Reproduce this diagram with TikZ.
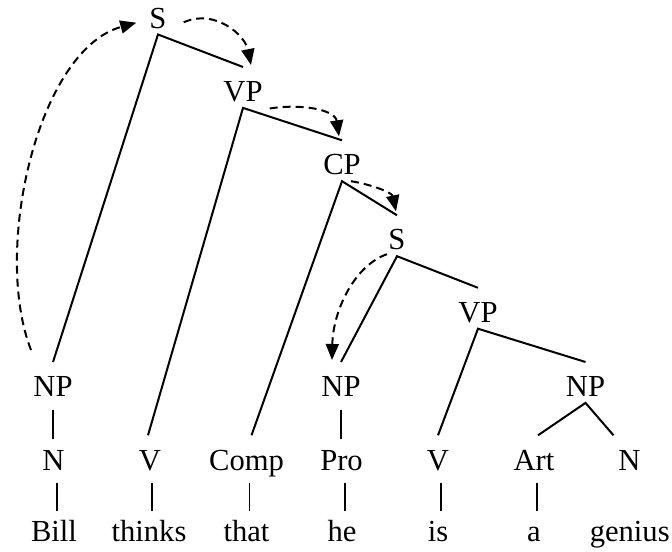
\documentclass[tikz,border=0pt]{standalone}
\usepackage{fontspec}
\setmainfont{Liberation Serif}
\usetikzlibrary{arrows.meta,calc}

\begin{document}
\begin{tikzpicture}[x=1bp,y=-1bp,
  lab/.style={inner sep=0pt,anchor=base,text height=34.5bp,text depth=6bp,
    font=\fontsize{30.6bp}{36bp}\selectfont},
  branch/.style={line width=2bp},
  bar/.style={line width=1.2bp,shorten <=7bp,shorten >=-3.5bp},
  move/.style={line width=2bp,dash pattern=on 8bp off 5bp,
    -{Triangle[length=16bp,width=13bp]}}]
\useasboundingbox (0,0) rectangle (672,552);
% phrase labels
\node[lab] (S1) at (158,28.3) {S};
\node[lab] (VP1) at (243,101.7) {VP};
\node[lab] (CP) at (342,175) {CP};
\node[lab] (S2) at (397,250) {S};
\node[lab] (VP2) at (478,322.5) {VP};
\node[lab] (NP1) at (53,396.7) {NP};
\node[lab] (NP2) at (341,396.7) {NP};
\node[lab] (NP3) at (585.5,396.7) {NP};
% word classes
\node[lab] (N1) at (53.3,470) {N};
\node[lab] (V1) at (150,470) {V};
\node[lab] (Comp) at (246.5,470) {Comp};
\node[lab] (Pro) at (341.5,470) {Pro};
\node[lab] (V2) at (438,470) {V};
\node[lab] (Art) at (534,470) {Art};
\node[lab] (N2) at (629.5,470) {N};
% words
\node[lab] (bill) at (54,541.7) {Bill};
\node[lab] (thinks) at (149,541.7) {thinks};
\node[lab] (that) at (246.5,541.7) {that};
\node[lab] (he) at (342,541.7) {he};
\node[lab] (is) at (438,541.7) {is};
\node[lab] (a) at (534,541.7) {a};
\node[lab] (genius) at (629.7,541.7) {genius};
% branches
\draw[branch] (NP1.north) -- (S1.south) -- (VP1.north);
\draw[branch] ([xshift=-2bp]V1.north) -- (VP1.south) -- (CP.north);
\draw[branch] ([xshift=5bp]Comp.north) -- (CP.south) -- (S2.north);
\draw[branch] (NP2.north) -- (S2.south) -- (VP2.north);
\draw[branch] (V2.north) -- (VP2.south) -- (NP3.north);
\draw[branch] ([xshift=4bp]Art.north) -- (NP3.south) -- ([xshift=-16bp]N2.north);
% unary bars
\draw[bar] (NP1.south) -- (NP1.south |- N1.north);
\draw[bar] (NP2.south) -- (NP2.south |- Pro.north);
\foreach \c/\w in {N1/bill,V1/thinks,Comp/that,Pro/he,V2/is,Art/a}
  \draw[bar] ($(\c.south -| \w)+(3,0)$) -- ($(\w.north)+(3,0)$);
% movement arrows
\draw[move] ([shift={(-22,-12)}]NP1.north) .. controls +(-39,-100) and +(-98.5,27.3) .. ([shift={(-13,-5.6)}]S1.base west);
\draw[move] ([shift={(17,-6)}]S1.base east) .. controls +(31,-14) and +(-6,-30) .. ([shift={(8,-2)}]VP1.north);
\draw[move] ([shift={(7,0.6)}]VP1.south east) .. controls +(30,-5) and +(-4,-27) .. ([shift={(-3,-4)}]CP.north);
\draw[move] ([shift={(9,0)}]CP.south) .. controls +(19,3) and +(-4,-19) .. ([shift={(-1,-4)}]S2.north);
\draw[move] ([shift={(-10,-2)}]S2.south) .. controls +(-32,11) and +(1,-50) .. ([shift={(-9,-2)}]NP2.north);
\end{tikzpicture}
\end{document}
